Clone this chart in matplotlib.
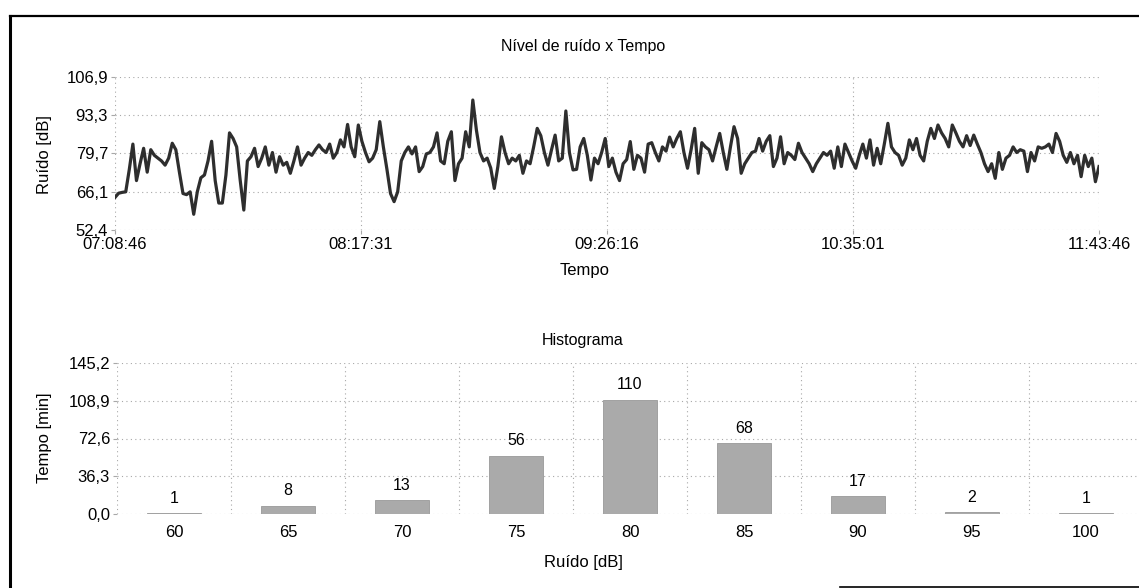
import numpy as np
import pandas as pd
import matplotlib
matplotlib.use('Agg')
import matplotlib.pyplot as plt

plt.rcParams['font.family'] = ['Liberation Sans', 'DejaVu Sans']

#==============================================================================
# data
#==============================================================================

t_start = '07:08:46'
time_ticks = ['07:08:46', '08:17:31', '09:26:16', '10:35:01', '11:43:46']

# one reading per minute, dB
noise_db = [
    64, 65.5, 65.8, 66, 74, 83, 70, 76, 81.5, 73, 81, 79, 78, 77, 75.5, 78, 83.3, 81, 73, 65.4,
    65, 66, 58, 66, 71, 72, 77, 84, 70, 62, 62, 72, 87, 85, 82, 70, 59.5, 77, 78.5, 81.5,
    75, 78, 82, 75.5, 80, 73, 78.5, 75.5, 76.5, 72.6, 77, 82, 75.5, 78, 80, 79, 81, 82.7, 81, 80,
    83, 78, 80, 84.5, 82, 90, 82, 78.5, 89.8, 84, 80, 76.7, 78, 81, 91, 82, 74, 65.4, 62.5, 66,
    77, 80, 82, 79.5, 82, 73.2, 75, 79.5, 80, 82, 87, 77, 76, 84, 87.4, 70, 76, 78, 87.4, 82,
    98.7, 88, 80, 77, 78, 74.5, 67.2, 75, 85.6, 80, 76, 78, 77, 79, 72.6, 77, 76, 82, 88.6, 86,
    80, 75.5, 81, 86.2, 77, 78, 94.8, 80, 73.8, 74, 82, 85, 79, 70.2, 78, 76, 80, 85, 75, 78,
    73, 70, 76, 77.5, 83.9, 74, 79, 78, 73, 83, 83.5, 80, 77, 82, 80.5, 85.5, 82, 85, 87.4, 80,
    74.4, 81, 88.6, 72.6, 83.5, 82, 81, 77, 82, 86.8, 80, 74, 82, 89.2, 85, 72.6, 76, 78, 80, 80.5,
    85, 80.5, 84, 86, 75, 78, 85.6, 76, 80, 79, 77.5, 83.3, 80, 78, 76, 73.2, 76, 78, 80, 79,
    80.5, 74.4, 82, 75, 83, 80, 77, 74.4, 79, 83, 78, 84.5, 75.5, 81.5, 76, 83, 90.4, 82, 80, 79,
    75.5, 78, 84.5, 81, 85, 79, 77, 84, 88.6, 85, 89.8, 87, 85, 82, 89.8, 87, 84, 82, 86, 82.5,
    86.2, 83, 80, 76, 73.2, 76, 70.8, 80, 74, 78, 79, 82, 80, 81, 80.5, 73.2, 80, 77, 82, 81.5,
    82, 83, 80, 86.8, 84, 79, 76.5, 80, 76, 79, 71.4, 79, 75, 78, 69.6, 75,
]

y_ticks_noise = [52.4, 66.1, 79.7, 93.3, 106.9]

hist_bins = ['60', '65', '70', '75', '80', '85', '90', '95', '100']
hist_minutes = [1, 8, 13, 56, 110, 68, 17, 2, 1]
y_ticks_hist = [0.0, 36.3, 72.6, 108.9, 145.2]

#==============================================================================

W, H = 1139, 588
fig = plt.figure(figsize=(W / 100, H / 100), dpi=100)
fig.patch.set_facecolor('white')


def fx(px):
    return px / W


def fy(py):
    return 1 - py / H


def comma(v):
    return ('%.1f' % v).replace('.', ',')


grid_kw = dict(color='#a8a8a8', linestyle=(0, (1, 3)), linewidth=0.8)
fs = 12

# page frame
fig.add_artist(plt.Line2D([fx(10), fx(10)], [fy(16), fy(588)], color='black', lw=2.2))
fig.add_artist(plt.Line2D([fx(10), fx(1139)], [fy(16), fy(16)], color='black', lw=1.6))
fig.add_artist(plt.Line2D([fx(840), fx(1139)], [fy(587), fy(587)], color='black', lw=1.2))

# ---- noise level vs time
times = pd.date_range('2000-01-01 ' + t_start, periods=len(noise_db), freq='min')
tick_dt = [pd.Timestamp('2000-01-01 ' + t) for t in time_ticks]

ax1 = fig.add_axes([fx(115), fy(230), fx(1099 - 115), (230 - 77) / H])
ax1.plot(times, noise_db, color='#2e2e2e', lw=2.3)
ax1.set_xlim(tick_dt[0], tick_dt[-1])
ax1.set_ylim(y_ticks_noise[0], y_ticks_noise[-1])
ax1.set_xticks(tick_dt)
ax1.set_xticklabels(time_ticks)
ax1.set_yticks(y_ticks_noise)
ax1.set_yticklabels([comma(v) for v in y_ticks_noise])
ax1.grid(True, **grid_kw)
for s in ax1.spines.values():
    s.set_visible(False)
ax1.tick_params(axis='both', length=3, color='#a8a8a8', labelsize=fs, pad=2)

fig.text(fx(583), fy(47), 'Nível de ruído x Tempo', ha='center', va='center', fontsize=fs - 0.5)
fig.text(fx(585), fy(271), 'Tempo', ha='center', va='center', fontsize=fs)
fig.text(fx(44), fy(155), 'Ruído [dB]', ha='center', va='center', rotation=90, fontsize=fs)

# ---- histogram
ax2 = fig.add_axes([fx(117), fy(514), fx(1143 - 117), (514 - 363) / H])
x = np.arange(len(hist_bins))
bars = ax2.bar(x, hist_minutes, width=0.48, color='#aaaaaa', edgecolor='#999999', lw=0.6)
for b, v in zip(bars, hist_minutes):
    ax2.text(b.get_x() + b.get_width() / 2, v + 7, str(v), ha='center', va='bottom',
             fontsize=fs - 0.5)
ax2.set_xlim(-0.5, len(hist_bins) - 0.5)
ax2.set_ylim(y_ticks_hist[0], y_ticks_hist[-1])
ax2.set_xticks(x)
ax2.set_xticklabels(hist_bins)
ax2.set_xticks(x[:-1] + 0.5, minor=True)
ax2.set_yticks(y_ticks_hist)
ax2.set_yticklabels([comma(v) for v in y_ticks_hist])
ax2.grid(True, axis='y', **grid_kw)
ax2.grid(True, axis='x', which='minor', **grid_kw)
ax2.axvline(-0.5, **grid_kw)
ax2.set_axisbelow(True)
for s in ax2.spines.values():
    s.set_visible(False)
ax2.tick_params(axis='x', which='both', length=0, labelsize=fs, pad=8)
ax2.tick_params(axis='y', length=3, color='#a8a8a8', labelsize=fs, pad=2)

fig.text(fx(583), fy(341), 'Histograma', ha='center', va='center', fontsize=fs - 0.5)
fig.text(fx(583), fy(563), 'Ruído [dB]', ha='center', va='center', fontsize=fs)
fig.text(fx(44), fy(438), 'Tempo [min]', ha='center', va='center', rotation=90, fontsize=fs)

fig.savefig('out.png', dpi=100)
